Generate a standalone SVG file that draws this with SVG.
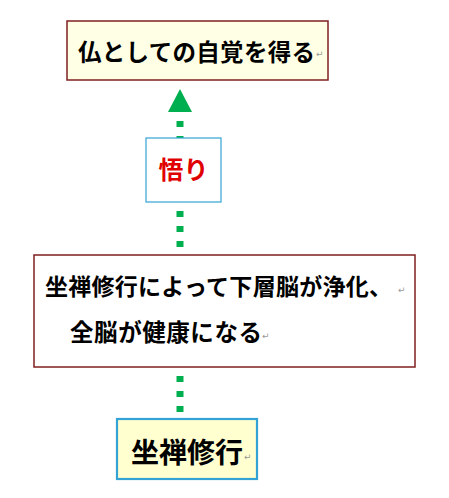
<svg xmlns="http://www.w3.org/2000/svg" width="449" height="498" viewBox="0 0 449 498">
<style>
.jp{font-family:"Noto Sans CJK JP","Noto Sans CJK SC",sans-serif;font-weight:bold;fill:#000}
.ret{font-family:"DejaVu Sans",sans-serif;font-size:9px;fill:#9a9a9a}
.red{stroke:#7f1f1f;stroke-width:1.5}
.blue{stroke:#33a3d6}
.conn{stroke:#00b050;stroke-width:7;stroke-dasharray:6 9;fill:none}
</style>
<rect width="449" height="498" fill="#fff"/>
<g id="connectors">
<line class="conn" x1="180" y1="121" x2="180" y2="418"/>
<polygon points="180,89 168,112 192,112" fill="#00b050"/>
</g>
<g id="node-goal">
<rect x="67" y="21" width="261" height="59" fill="#ffffe5" class="red"/>
<text class="jp" x="78" y="61" font-size="23.5" textLength="237" lengthAdjust="spacing">仏としての自覚を得る</text>
<text class="ret" x="316" y="57">↵</text>
</g>
<g id="node-satori">
<rect x="146" y="138" width="75" height="64" fill="#fff" class="blue" stroke-width="1.2"/>
<text class="jp" x="183.5" y="179" font-size="25" text-anchor="middle" style="fill:#e00000">悟り</text>
</g>
<g id="node-brain">
<rect x="34" y="255" width="381" height="112" fill="#fff" class="red"/>
<text class="jp" x="45" y="295" font-size="23" textLength="347" lengthAdjust="spacing">坐禅修行によって下層脳が浄化、</text>
<text class="ret" x="398" y="293">↵</text>
<text class="jp" x="70" y="341" font-size="23.5" textLength="192" lengthAdjust="spacing">全脳が健康になる</text>
<text class="ret" x="262" y="339">↵</text>
</g>
<g id="node-zazen">
<rect x="117" y="419" width="140" height="60" fill="#ffffd0" class="blue" stroke-width="2.2"/>
<text class="jp" x="131" y="463" font-size="28" textLength="112" lengthAdjust="spacing">坐禅修行</text>
<text class="ret" x="244" y="460">↵</text>
</g>
</svg>
